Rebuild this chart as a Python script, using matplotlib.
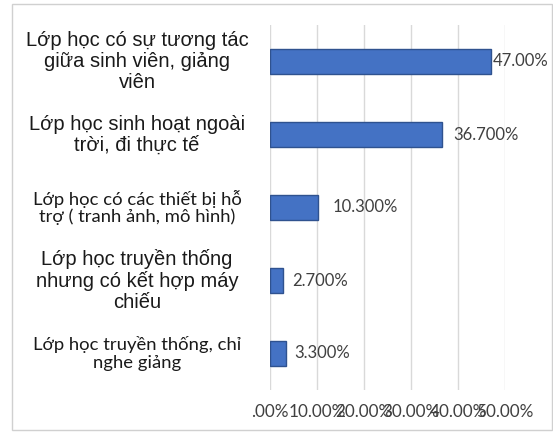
import matplotlib
matplotlib.use("Agg")
import matplotlib.pyplot as plt
from matplotlib.patches import Rectangle
from matplotlib.transforms import blended_transform_factory
import numpy as np

# survey categories, top to bottom
categories = [
    "Lớp học có sự tương tác\ngiữa sinh viên, giảng\nviên",
    "Lớp học sinh hoạt ngoài\ntrời, đi thực tế",
    "Lớp học có các thiết bị hỗ\ntrợ ( tranh ảnh, mô hình)",
    "Lớp học truyền thống\nnhưng có kết hợp máy\nchiếu",
    "Lớp học truyền thống, chỉ\nnghe giảng",
]
values = [47.0, 36.7, 10.3, 2.7, 3.3]
value_labels = ["47.00%", "36.700%", "10.300%", "2.700%", "3.300%"]
tick_values = [0, 10, 20, 30, 40, 50]
tick_labels = [".00%", "10.00%", "20.00%", "30.00%", "40.00%", "50.00%"]

# category labels were typed in two different fonts
ARIAL = ["Liberation Sans", "DejaVu Sans"]
CALIBRI = ["Lato", "Open Sans", "DejaVu Sans"]
label_fonts = [ARIAL, ARIAL, CALIBRI, ARIAL, CALIBRI]
label_sizes = [14.5, 14.5, 13.3, 14.5, 13.3]
label_offsets = [1, 8, 10, 7, 6]   # gap between bar end and value text, in points

W, H = 553, 434
fig = plt.figure(figsize=(W / 100, H / 100), dpi=100)
fig.patch.set_facecolor("white")

# chart-area border
fig.add_artist(Rectangle((12 / W, 4 / H), 540 / W, 426 / H, transform=fig.transFigure,
                         fill=False, edgecolor="#d0d0d0", linewidth=1))

ax = fig.add_axes([270 / W, 1 - 390 / H, 235 / W, 365 / H])
y = np.arange(len(values))
ax.barh(y, values, height=0.34, color="#4472C4", edgecolor="#2F528F", linewidth=1, zorder=3)
ax.set_ylim(len(values) - 0.5, -0.5)
ax.set_xlim(0, 50)

ax.set_xticks(tick_values)
ax.set_xticklabels(tick_labels, fontfamily=CALIBRI, fontsize=12.3, color="#404040")
ax.tick_params(axis="x", length=0, pad=10)
ax.set_yticks([])
ax.grid(axis="x", color="#d9d9d9", linewidth=1, zorder=0)
for s in ax.spines.values():
    s.set_visible(False)

for yi, v, lab, off in zip(y, values, value_labels, label_offsets):
    ax.annotate(lab, (v, yi), xytext=(off, 0), textcoords="offset points",
                ha="left", va="center", fontfamily=CALIBRI, fontsize=12, color="#404040")

trans = blended_transform_factory(fig.transFigure, ax.transData)
for yi, cat, fam, fs in zip(y, categories, label_fonts, label_sizes):
    ax.text(137 / W, yi, cat, transform=trans, ha="center", va="center",
            multialignment="center", fontfamily=fam, fontsize=fs, color="#1a1a1a",
            linespacing=1.1)

fig.savefig("out.png", dpi=100)
